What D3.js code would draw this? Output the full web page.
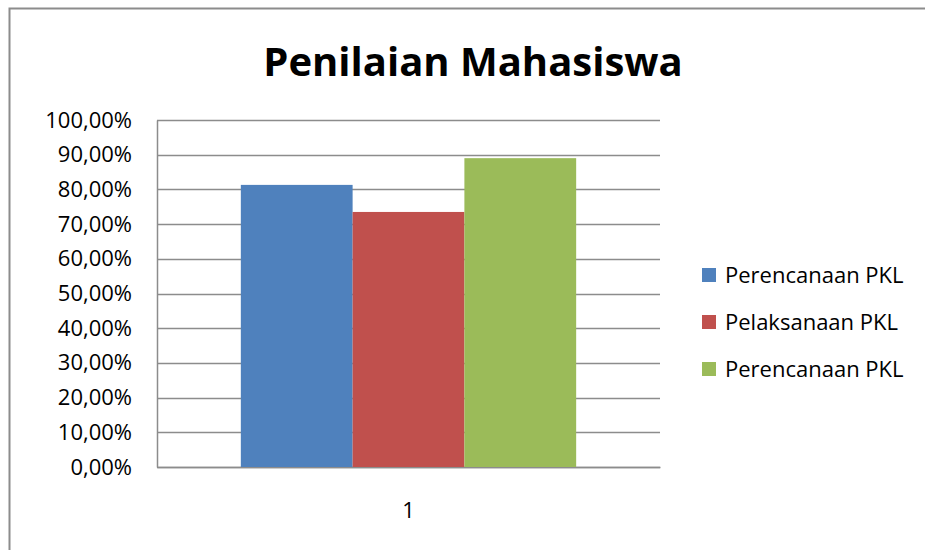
<!DOCTYPE html>
<html>
<head>
<meta charset="utf-8">
<script src="https://cdnjs.cloudflare.com/ajax/libs/d3/7.8.5/d3.min.js"></script>
<style>
  html, body { margin: 0; padding: 0; background: #fff; }
  svg { display: block; font-family: "Open Sans", "Noto Sans", sans-serif; }
</style>
</head>
<body>
<svg id="chart" width="925" height="550"></svg>
<script>
  'use strict';

  // chart data
  var categories = ['1'];
  var seriesNames = ['Perencanaan PKL', 'Pelaksanaan PKL', 'Perencanaan PKL'];
  var seriesValues = [0.813, 0.735, 0.89];
  var seriesColors = ['#4f81bd', '#c0504d', '#9bbb59'];
  var yTicks = [0, 0.1, 0.2, 0.3, 0.4, 0.5, 0.6, 0.7, 0.8, 0.9, 1.0];

  var svg = d3.select('#chart');
  var plot = { left: 157, right: 660, top: 120, bottom: 467 };
  var labelSize = 22;

  // outer chart border (right/bottom edges fall outside the view)
  svg.append('path')
    .attr('d', 'M9.5,560 V8.5 H935')
    .attr('fill', 'none')
    .attr('stroke', '#8c8c8c')
    .attr('stroke-width', 2);

  svg.append('text')
    .attr('x', 473)
    .attr('y', 76)
    .attr('text-anchor', 'middle')
    .attr('font-size', 40)
    .attr('font-weight', 'bold')
    .attr('fill', '#000')
    .text('Penilaian Mahasiswa');

  var y = d3.scaleLinear().domain([0, 1]).range([plot.bottom, plot.top]);
  var x0 = d3.scaleBand().domain(categories).range([plot.left, plot.right]).paddingInner(0).paddingOuter(0);
  // gap width 150% -> bar = band / 4.5
  var barW = x0.bandwidth() / (seriesNames.length + 1.5);
  var x1 = d3.scaleBand().domain(d3.range(seriesNames.length))
    .range([0, barW * seriesNames.length]);

  var fmt = function (v) { return d3.format('.2f')(v * 100).replace('.', ',') + '%'; };

  // gridlines
  svg.append('g')
    .selectAll('line')
    .data(yTicks)
    .enter()
    .append('line')
      .attr('x1', plot.left)
      .attr('x2', plot.right)
      .attr('y1', function (d) { return Math.round(y(d)) + 0.5; })
      .attr('y2', function (d) { return Math.round(y(d)) + 0.5; })
      .attr('stroke', '#8c8c8c')
      .attr('stroke-width', 1.5);

  // y axis
  var yAxis = svg.append('g')
    .attr('transform', 'translate(' + plot.left + ',0)')
    .call(d3.axisLeft(y).tickValues(yTicks).tickFormat(fmt).tickSize(0).tickPadding(25));
  yAxis.select('.domain').attr('stroke', '#8c8c8c').attr('stroke-width', 1.5);
  yAxis.selectAll('text')
    .attr('font-size', labelSize)
    .attr('font-family', '"Open Sans", "Noto Sans", sans-serif')
    .attr('fill', '#000');

  // x axis
  var xAxis = svg.append('g')
    .attr('transform', 'translate(0,' + plot.bottom + ')')
    .call(d3.axisBottom(x0).tickSize(0).tickPadding(35));
  xAxis.select('.domain').attr('stroke', '#8c8c8c').attr('stroke-width', 1.5);
  xAxis.selectAll('text')
    .attr('font-size', labelSize)
    .attr('font-family', '"Open Sans", "Noto Sans", sans-serif')
    .attr('fill', '#000');

  // bars
  var offset = (x0.bandwidth() - barW * seriesNames.length) / 2;
  svg.append('g')
    .selectAll('g')
    .data(categories)
    .enter()
    .append('g')
      .attr('transform', function (d) { return 'translate(' + (x0(d) + offset) + ',0)'; })
    .selectAll('rect')
    .data(function () {
      return seriesValues.map(function (v, i) { return { i: i, v: v }; });
    })
    .enter()
    .append('rect')
      .attr('x', function (d) { return x1(d.i); })
      .attr('width', x1.bandwidth())
      .attr('y', function (d) { return y(d.v); })
      .attr('height', function (d) { return plot.bottom - y(d.v); })
      .attr('fill', function (d) { return seriesColors[d.i]; });

  // legend
  var legend = svg.append('g')
    .selectAll('g')
    .data(seriesNames)
    .enter()
    .append('g')
      .attr('transform', function (d, i) { return 'translate(702,' + (268 + i * 47) + ')'; });
  legend.append('rect')
    .attr('width', 14)
    .attr('height', 14)
    .attr('fill', function (d, i) { return seriesColors[i]; });
  legend.append('text')
    .attr('x', 23)
    .attr('y', 15)
    .attr('font-size', labelSize)
    .attr('fill', '#000')
    .text(function (d) { return d; });
</script>
</body>
</html>
